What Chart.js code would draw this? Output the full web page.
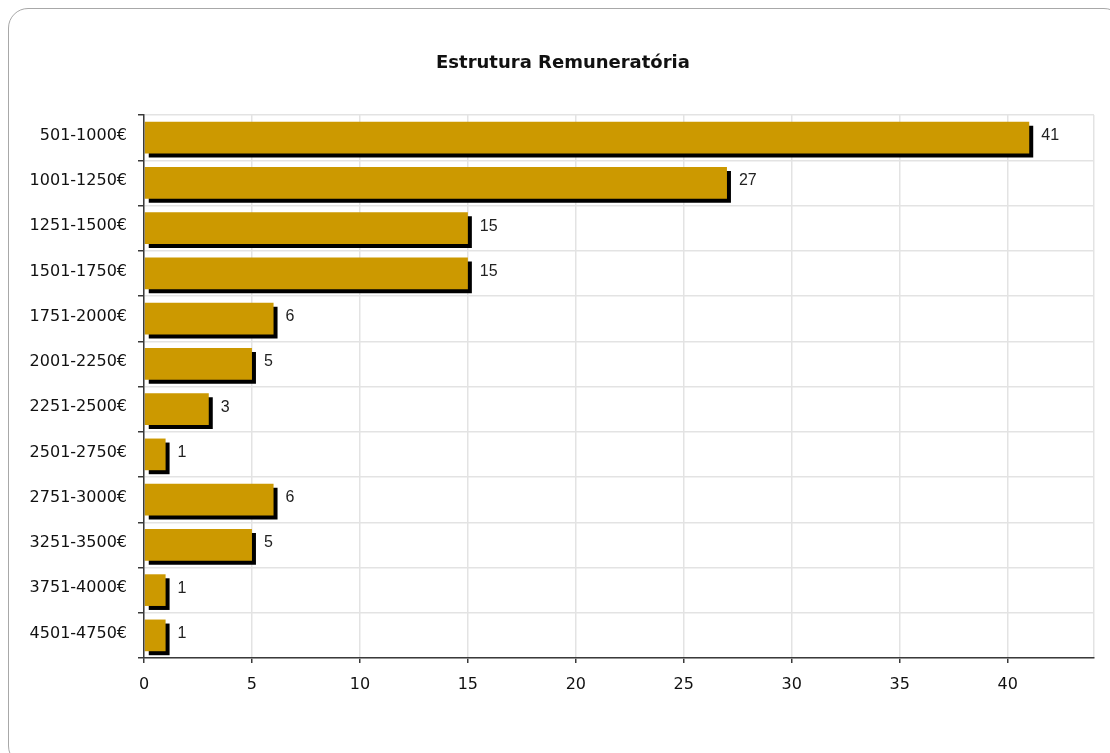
<!DOCTYPE html>
<html lang="pt">
<head>
<meta charset="utf-8">
<title>Estrutura Remuneratória</title>
<script src="https://cdn.jsdelivr.net/npm/chart.js@4.4.1/dist/chart.umd.min.js"></script>
<style>
  html, body { margin: 0; padding: 0; background: #fff; overflow: hidden; }
  #card {
    position: absolute; left: 8px; top: 8px;
    width: 1116px; height: 758px;
    border: 1px solid #a8a8a8; border-radius: 20px;
    box-sizing: border-box; background: #fff;
  }
  #wrap { position: absolute; left: 0; top: 0; width: 1110px; height: 753px; }
</style>
</head>
<body>
<div id="card"></div>
<div id="wrap"><canvas id="chart" width="1110" height="753"></canvas></div>
<script>
// Salary brackets and headcount per bracket
const categories = [
  '501-1000€', '1001-1250€', '1251-1500€', '1501-1750€', '1751-2000€', '2001-2250€',
  '2251-2500€', '2501-2750€', '2751-3000€', '3251-3500€', '3751-4000€', '4501-4750€'
];
const counts = [41, 27, 15, 15, 6, 5, 3, 1, 6, 5, 1, 1];
const xTickValues = [0, 5, 10, 15, 20, 25, 30, 35, 40];
const xMax = 44;
const chartTitle = 'Estrutura Remuneratória';

const GOLD = '#cc9900';
const GRID = '#e3e3e3';
const AXIS = '#3a3a3a';
const PAD = { left: 4, right: 16, top: 115, bottom: 0 };
const CARD_CENTER_X = 563;   // horizontal middle of the rounded card
const TITLE_Y = 63;

// Title centred over the card rather than over the canvas
const cardTitle = {
  id: 'cardTitle',
  afterDraw(chart) {
    const ctx = chart.ctx;
    ctx.save();
    ctx.font = 'bold 18px "DejaVu Sans", sans-serif';
    ctx.fillStyle = '#111';
    ctx.textAlign = 'center';
    ctx.textBaseline = 'middle';
    ctx.fillText(chartTitle, CARD_CENTER_X, TITLE_Y);
    ctx.restore();
  }
};

// Hard-edged black drop shadow behind each bar
const barShadow = {
  id: 'barShadow',
  beforeDatasetDraw(chart) {
    const ctx = chart.ctx;
    ctx.save();
    ctx.shadowColor = '#000';
    ctx.shadowOffsetX = 4;
    ctx.shadowOffsetY = 4;
    ctx.shadowBlur = 0;
  },
  afterDatasetDraw(chart) {
    chart.ctx.restore();
  }
};

// Value written just past the end of each bar
const valueLabels = {
  id: 'valueLabels',
  afterDatasetsDraw(chart) {
    const ctx = chart.ctx;
    const meta = chart.getDatasetMeta(0);
    ctx.save();
    ctx.font = '16px "Liberation Sans", Arial, sans-serif';
    ctx.fillStyle = '#222';
    ctx.textAlign = 'left';
    ctx.textBaseline = 'middle';
    meta.data.forEach((bar, i) => {
      ctx.fillText(String(counts[i]), bar.x + 12, bar.y - 2);
    });
    ctx.restore();
  }
};

new Chart(document.getElementById('chart'), {
  type: 'bar',
  data: {
    labels: categories,
    datasets: [{
      data: counts,
      backgroundColor: GOLD,
      borderWidth: 0,
      barPercentage: 0.7,
      categoryPercentage: 1.0
    }]
  },
  options: {
    indexAxis: 'y',
    responsive: false,
    animation: false,
    events: [],
    layout: { padding: PAD },
    plugins: {
      legend: { display: false },
      tooltip: { enabled: false },
      title: { display: false }
    },
    scales: {
      x: {
        type: 'linear',
        min: 0,
        max: xMax,
        afterBuildTicks(scale) {
          scale.ticks = xTickValues.map(v => ({ value: v })).concat([{ value: xMax }]);
        },
        afterFit(scale) { scale.height = 753 - 658 - PAD.bottom; },
        grid: {
          color: GRID,
          lineWidth: 1.5,
          tickLength: 5,
          tickWidth: 1.5,
          tickColor: (c) => (c.tick && c.tick.value === xMax) ? 'rgba(0,0,0,0)' : AXIS
        },
        border: { color: AXIS, width: 1.5, z: 1 },
        ticks: {
          color: '#111',
          padding: 12,
          font: { family: '"DejaVu Sans", sans-serif', size: 16 },
          maxRotation: 0,
          autoSkip: false,
          callback: (v) => (xTickValues.includes(v) ? String(v) : '')
        }
      },
      y: {
        type: 'category',
        afterFit(scale) { scale.width = 144 - PAD.left; },
        grid: {
          color: GRID,
          lineWidth: 1.5,
          offset: true,
          tickLength: 6,
          tickWidth: 1.5,
          tickColor: AXIS
        },
        border: { color: AXIS, width: 1.5, z: 1 },
        ticks: {
          color: '#111',
          padding: 11,
          labelOffset: -2,
          autoSkip: false,
          font: { family: '"DejaVu Sans", sans-serif', size: 16 }
        }
      }
    }
  },
  plugins: [barShadow, valueLabels, cardTitle]
});
</script>
</body>
</html>
